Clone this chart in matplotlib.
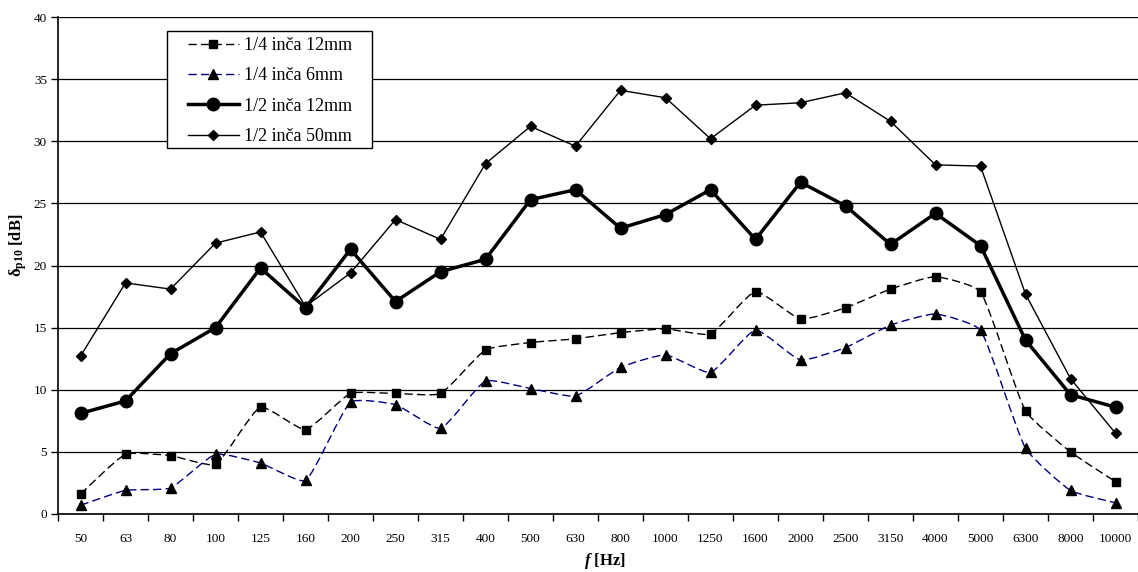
import numpy as np
import matplotlib
matplotlib.use("Agg")
import matplotlib.pyplot as plt
from matplotlib.path import Path
from matplotlib.patches import PathPatch, Rectangle
from matplotlib.lines import Line2D

plt.rcParams["font.family"] = ["Liberation Serif", "DejaVu Serif"]
plt.rcParams["mathtext.fontset"] = "custom"
plt.rcParams["mathtext.rm"] = "Liberation Serif"
plt.rcParams["mathtext.bf"] = "Liberation Serif:bold"
plt.rcParams["mathtext.it"] = "Liberation Serif:italic"
plt.rcParams["mathtext.bfit"] = "Liberation Serif:bold:italic"

freqs = ["50", "63", "80", "100", "125", "160", "200", "250", "315", "400",
         "500", "630", "800", "1000", "1250", "1600", "2000", "2500", "3150",
         "4000", "5000", "6300", "8000", "10000"]

quarter_12mm = [1.6, 4.8, 4.7, 4.0, 8.6, 6.8, 9.7, 9.7, 9.7, 13.2, 13.8, 14.1,
                14.6, 14.9, 14.5, 17.9, 15.7, 16.6, 18.1, 19.1, 17.9, 8.3, 5.0, 2.6]
quarter_6mm = [0.7, 1.9, 2.1, 4.8, 4.1, 2.7, 9.0, 8.8, 6.9, 10.7, 10.1, 9.5,
               11.8, 12.8, 11.4, 14.8, 12.4, 13.4, 15.2, 16.1, 14.8, 5.3, 1.9, 0.9]
half_12mm = [8.1, 9.1, 12.9, 15.0, 19.8, 16.6, 21.3, 17.1, 19.5, 20.5, 25.3, 26.1,
             23.0, 24.1, 26.1, 22.1, 26.7, 24.8, 21.7, 24.2, 21.6, 14.0, 9.6, 8.6]
half_50mm = [12.7, 18.6, 18.1, 21.8, 22.7, 16.7, 19.4, 23.7, 22.1, 28.2, 31.2, 29.6,
             34.1, 33.5, 30.2, 32.9, 33.1, 33.9, 31.6, 28.1, 28.0, 17.7, 10.9, 6.5]

labels = ["1/4 inča 12mm", "1/4 inča 6mm", "1/2 inča 12mm", "1/2 inča 50mm"]


def smooth_path(ax, x, y, strength=0.5):
    # mildly smoothed line, control points weighted by on-screen chord length
    to_px = ax.transData
    pts = to_px.transform(np.column_stack([x, y]).astype(float))
    n = len(pts)
    verts = [pts[0]]
    codes = [Path.MOVETO]
    for i in range(n - 1):
        p0 = pts[max(i - 1, 0)]
        p1 = pts[i]
        p2 = pts[i + 1]
        p3 = pts[min(i + 2, n - 1)]
        d01 = np.hypot(*(p1 - p0))
        d12 = np.hypot(*(p2 - p1))
        d23 = np.hypot(*(p3 - p2))
        f1 = d12 / (d01 + d12) / 3 if d01 + d12 > 0 else 0
        f2 = d12 / (d12 + d23) / 3 if d12 + d23 > 0 else 0
        c1 = p1 + (p2 - p0) * min(f1, 0.2) * strength
        c2 = p2 - (p3 - p1) * min(f2, 0.2) * strength
        verts += [c1, c2, p2]
        codes += [Path.CURVE4] * 3
    verts = to_px.inverted().transform(np.array(verts))
    return Path(verts, codes)


fig = plt.figure(figsize=(11.38, 5.72), dpi=100)
ax = fig.add_axes([58 / 1138, 58 / 572, 1080 / 1138, 497 / 572])

x = np.arange(len(freqs))
ax.set_xlim(-0.5, len(freqs) - 0.5)
ax.set_ylim(0, 40)
dash = (0, (6, 3))

# dashed, smoothed series
for vals, color, marker, ms in [(quarter_12mm, "black", "s", 6),
                                (quarter_6mm, "#000080", "^", 7)]:
    patch = PathPatch(smooth_path(ax, x, vals), facecolor="none", edgecolor=color,
                      lw=1.0, linestyle=dash, zorder=3)
    ax.add_patch(patch)
    ax.plot(x, vals, linestyle="none", marker=marker, ms=ms, color="black",
            zorder=4)

ax.plot(x, half_12mm, color="black", lw=2.5, marker="o", ms=9, zorder=5)
ax.plot(x, half_50mm, color="black", lw=1.0, marker="D", ms=5, zorder=5)

handles = [
    Line2D([], [], color="black", lw=1.0, linestyle=dash, marker="s", ms=6,
           mfc="black", mec="black"),
    Line2D([], [], color="#000080", lw=1.0, linestyle=dash, marker="^", ms=7,
           mfc="black", mec="black"),
    Line2D([], [], color="black", lw=2.5, marker="o", ms=9),
    Line2D([], [], color="black", lw=1.0, marker="D", ms=5),
]

# legend frame drawn separately to get the wide side padding of the original
box = Rectangle(((167 - 58) / 1080, (514 - 148) / 497), 205 / 1080, 117 / 497,
                transform=ax.transAxes, facecolor="white", edgecolor="black",
                lw=1.0, zorder=9)
ax.add_patch(box)
leg = ax.legend(handles, labels, loc="upper left",
                bbox_to_anchor=((188 - 58) / 1080, (514 - 37) / 497),
                borderaxespad=0, borderpad=0, frameon=False,
                fontsize=13, handlelength=2.8, labelspacing=0.74,
                handletextpad=0.28)
leg.set_zorder(10)

ax.set_yticks(np.arange(0, 41, 5))
ax.yaxis.grid(True, color="black", lw=0.9)
ax.set_axisbelow(True)

ax.set_xticks(np.arange(-0.5, len(freqs) + 0.5, 1))
ax.set_xticklabels([])
ax.set_xticks(x, minor=True)
ax.set_xticklabels(freqs, minor=True)
ax.tick_params(axis="x", which="major", length=5, width=1, direction="out")
ax.tick_params(axis="x", which="minor", length=0, pad=14, labelsize=9.5)
ax.tick_params(axis="y", length=5, width=1, direction="out", pad=3,
               labelsize=9.5)

for side in ["top", "right"]:
    ax.spines[side].set_visible(False)
for side in ["left", "bottom"]:
    ax.spines[side].set_linewidth(1.2)

ax.set_ylabel(r"$\mathbf{\delta_{p10}}$ [dB]", fontsize=12, fontweight="bold")
ax.yaxis.set_label_coords(-0.027, 0.54)
ax.set_xlabel(r"$\mathbfit{f}$ [Hz]", fontsize=12, fontweight="bold")
ax.xaxis.set_label_coords(0.506, -0.074)

fig.savefig("out.png", dpi=100)
